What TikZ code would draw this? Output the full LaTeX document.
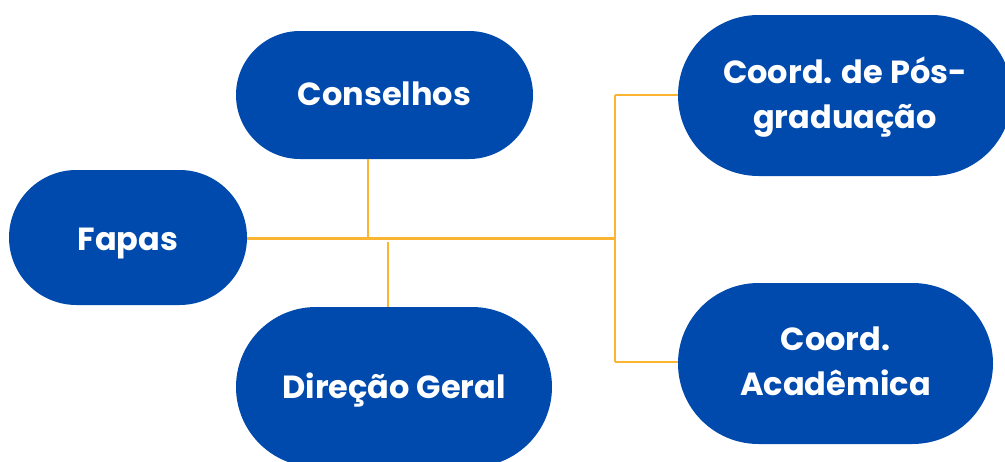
\documentclass[tikz,border=0pt]{standalone}
\usepackage{fontspec}
\setmainfont{Poppins}[UprightFont=* Bold]
\usetikzlibrary{calc}
\definecolor{pillblue}{HTML}{004AAD}
\definecolor{linkorange}{HTML}{FBB533}
\tikzset{
  pill/.style={draw=none, text=white, align=center,
    font=\fontsize{32}{45}\selectfont, inner sep=0pt},
  link/.style={draw=linkorange, line width=2.2pt},
}
\begin{document}
\begin{tikzpicture}[x=1pt,y=-1pt]
\useasboundingbox (0,0) rectangle (1005,461);
\begin{scope}
\clip (0,0) rectangle (1005,461);
% Fapas 9-247, 170-305
\fill[pillblue, rounded corners=67.5pt] (9,170) rectangle (247,305);
\node[pill, anchor=base] (fapas) at (128,250) {Fapas};
% Conselhos 236-533, 31-159
\fill[pillblue, rounded corners=64pt] (236,31) rectangle (533,159);
\node[pill, anchor=base] (cons) at (384.5,105) {Conselhos};
% Direcao 236-552, 307-467
\fill[pillblue, rounded corners=80pt] (236,307) rectangle (552,467);
\node[pill, anchor=base] (dir) at (394,398) {Direção Geral};
% Pos 678-1012, 15-176
\fill[pillblue, rounded corners=80.5pt] (678,15) rectangle (1012,176);
\node[pill, anchor=base] (pos) at (845,128) {Coord. de Pós-\\graduação};
% Academica 678-993, 283-444
\fill[pillblue, rounded corners=80.5pt] (678,283) rectangle (993,444);
\node[pill, anchor=base] (acad) at (835.5,395) {Coord.\\Acadêmica};
\end{scope}
% connector anchors
\coordinate (fapasE) at (247,238.5);
\coordinate (consS) at (368,159);
\coordinate (dirN) at (388,307);
\coordinate (posW) at (678,95);
\coordinate (acadW) at (678,362);
\coordinate (jc) at (368,238.5);
\coordinate (jd1) at (388,242);
\coordinate (jr) at (615,238.5);
\coordinate (jpos) at (615,95);
\coordinate (jacad) at (615,362);
\draw[link] (fapasE) -- (jr);
\draw[link] (consS) -- (jc);
\draw[link] (jd1) -- (dirN);
\draw[link] (jpos) -- (jacad);
\draw[link] (jpos) -- (posW);
\draw[link] (jacad) -- (acadW);
\end{tikzpicture}
\end{document}
